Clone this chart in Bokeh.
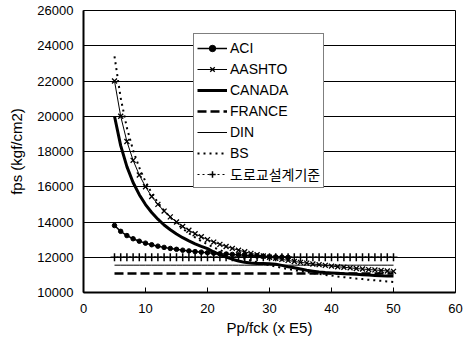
from bokeh.plotting import figure
from bokeh.models import FixedTicker, Legend, LegendItem, Range1d
from bokeh.embed import file_html
from bokeh.resources import INLINE

x = list(range(5, 51))

# ACI is visible only until it merges into the 12000 line
x_aci = list(range(5, 34))
aci = [13800, 13470, 13230, 13050, 12910, 12800, 12710, 12630, 12560, 12500,
       12450, 12400, 12360, 12320, 12290, 12260, 12230, 12200, 12180, 12160,
       12140, 12110, 12090, 12070, 12050, 12030, 12020, 12010, 12000]

aashto = [22000, 20000, 18570, 17500, 16670, 16000, 15450, 15000, 14620, 14290,
          14000, 13750, 13530, 13330, 13160, 13000, 12860, 12730, 12610, 12500,
          12400, 12310, 12220, 12140, 12070, 12000, 11940, 11880, 11820, 11760,
          11710, 11670, 11620, 11580, 11540, 11500, 11460, 11430, 11400, 11360,
          11330, 11300, 11280, 11250, 11220, 11200]

canada = [20000, 18330, 17140, 16240, 15550, 14990, 14540, 14160, 13830, 13560,
          13320, 13110, 12930, 12760, 12620, 12490, 12300, 12150, 12010, 11890,
          11790, 11710, 11670, 11650, 11640, 11630, 11600, 11540, 11460, 11400,
          11330, 11260, 11210, 11160, 11130, 11110, 11090, 11070, 11050, 11030,
          11010, 10990, 10970, 10950, 10940, 10930]

france = [11080, 11080, 11080, 11080, 11080, 11080, 11080, 11080, 11080, 11080,
          11080, 11080, 11080, 11080, 11080, 11080, 11080, 11080, 11080, 11080,
          11080, 11080, 11080, 11080, 11080, 11080, 11080, 11080, 11080, 11080,
          11080, 11080, 11080, 11080, 11080, 11080, 11080, 11080, 11080, 11080,
          11080, 11080, 11080, 11080, 11080, 11080]

din = [11550, 11550, 11550, 11550, 11550, 11550, 11550, 11550, 11550, 11550,
       11550, 11550, 11550, 11550, 11550, 11550, 11550, 11550, 11550, 11550,
       11550, 11550, 11550, 11550, 11550, 11550, 11550, 11550, 11550, 11550,
       11550, 11550, 11550, 11550, 11550, 11550, 11550, 11550, 11550, 11550,
       11550, 11550, 11550, 11550, 11550, 11550]

bs = [23400, 21030, 19340, 18070, 17080, 16290, 15640, 15100, 14650, 14260,
      13920, 13620, 13360, 13130, 12920, 12730, 12560, 12410, 12270, 12140,
      12020, 11910, 11810, 11720, 11630, 11550, 11470, 11400, 11330, 11270,
      11210, 11150, 11100, 11050, 11000, 10960, 10910, 10870, 10830, 10790,
      10760, 10720, 10690, 10660, 10630, 10600]

korea = [12000, 12000, 12000, 12000, 12000, 12000, 12000, 12000, 12000, 12000,
         12000, 12000, 12000, 12000, 12000, 12000, 12000, 12000, 12000, 12000,
         12000, 12000, 12000, 12000, 12000, 12000, 12000, 12000, 12000, 12000,
         12000, 12000, 12000, 12000, 12000, 12000, 12000, 12000, 12000, 12000,
         12000, 12000, 12000, 12000, 12000, 12000]

names = ["ACI", "AASHTO", "CANADA", "FRANCE", "DIN", "BS", "도로교설계기준"]
x_ticks = [0, 10, 20, 30, 40, 50, 60]
y_ticks = [10000, 12000, 14000, 16000, 18000, 20000, 22000, 24000, 26000]

FONT = "'Liberation Sans', 'Noto Sans CJK KR', sans-serif"

p = figure(width=464, height=347, x_range=Range1d(0, 60), y_range=Range1d(10000, 26000),
           output_backend="svg", toolbar_location=None,
           min_border_left=83, min_border_right=9, min_border_top=10, min_border_bottom=55)

p.background_fill_color = "white"
p.border_fill_color = "white"
p.outline_line_color = "black"
p.outline_line_width = 1

p.xgrid.visible = False
p.ygrid.grid_line_color = "black"
p.ygrid.grid_line_width = 1
p.ygrid.grid_line_alpha = 1.0

p.xaxis.ticker = FixedTicker(ticks=x_ticks)
p.yaxis.ticker = FixedTicker(ticks=y_ticks)
for ax in (p.xaxis[0], p.yaxis[0]):
    ax.axis_line_color = "black"
    ax.axis_line_width = 2
    ax.minor_tick_line_color = None
    ax.major_label_text_font = FONT
    ax.major_label_text_font_size = "13px"
    ax.major_label_text_color = "black"
    ax.axis_label_text_font = FONT
    ax.axis_label_text_font_size = "15px"
    ax.axis_label_text_font_style = "normal"
    ax.axis_label_text_color = "black"

p.xaxis.major_tick_in = 5
p.xaxis.major_tick_out = 0
p.xaxis.major_tick_line_color = "black"
p.xaxis.major_label_standoff = 11
p.xaxis.axis_label = "Pp/fck (x E5)"
p.xaxis.axis_label_standoff = 3

p.yaxis.major_tick_in = 0
p.yaxis.major_tick_out = 0
p.yaxis.major_label_standoff = 10
p.yaxis.axis_label = "fps (kgf/cm2)"
p.yaxis.axis_label_standoff = 9

# series
r_aci_l = p.line(x_aci, aci, line_color="black", line_width=1.5)
r_aci_m = p.scatter(x_aci, aci, marker="circle", size=4.5, fill_color="black", line_color="black")

r_aas_l = p.line(x, aashto, line_color="black", line_width=1)
r_aas_m = p.scatter(x, aashto, marker="x", size=7, line_color="black", line_width=1.3)

r_can = p.line(x, canada, line_color="black", line_width=3)
r_fra = p.line(x, france, line_color="black", line_width=2.5, line_dash="9 4")
r_din = p.line(x, din, line_color="black", line_width=1)
r_bs = p.line(x, bs, line_color="black", line_width=2, line_dash="2 4")

r_kor_l = p.line(x, korea, line_color="black", line_width=1, line_dash="2 3")
r_kor_m = p.scatter(x, korea, marker="cross", size=8, line_color="black", line_width=1.5)

items = [
    LegendItem(label=names[0], renderers=[r_aci_l, r_aci_m]),
    LegendItem(label=names[1], renderers=[r_aas_l, r_aas_m]),
    LegendItem(label=names[2], renderers=[r_can]),
    LegendItem(label=names[3], renderers=[r_fra]),
    LegendItem(label=names[4], renderers=[r_din]),
    LegendItem(label=names[5], renderers=[r_bs]),
    LegendItem(label=names[6], renderers=[r_kor_l, r_kor_m]),
]
legend = Legend(items=items, location=(110, 104))
legend.border_line_color = "black"
legend.border_line_width = 1
legend.background_fill_color = "white"
legend.background_fill_alpha = 1.0
legend.label_text_font = FONT
legend.label_text_font_size = "14px"
legend.label_text_color = "black"
legend.glyph_width = 30
legend.glyph_height = 16
legend.label_height = 21
legend.label_standoff = 3
legend.spacing = 0
legend.padding = 3
legend.margin = 0
p.add_layout(legend, "center")

open("out.html", "w").write(file_html(p, INLINE))
